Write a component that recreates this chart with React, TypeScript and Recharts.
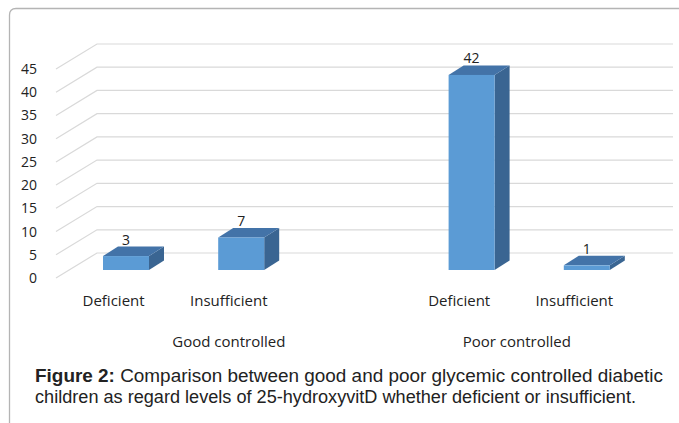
import React from 'react';
import { BarChart, Bar, CartesianGrid, XAxis, YAxis, LabelList } from 'recharts';

// categories (blank slot separates the two groups, like the Excel sheet)
const categories = ['Deficient', 'Insufficient', '', 'Deficient', 'Insufficient'];
const groups = ['Good controlled', 'Good controlled', 'Good controlled', 'Poor controlled', 'Poor controlled'];
const counts: (number | null)[] = [3, 7, null, 42, 1];
const yTicks = [0, 5, 10, 15, 20, 25, 30, 35, 40, 45];

const data = categories.map((name, i) => ({ id: i, name, group: groups[i], count: counts[i] }));

// oblique 3D offsets
const WALL_DX = 41;
const WALL_DY = -25;
const BAR_SHIFT_X = 12;
const BAR_SHIFT_Y = -8;
const DEPTH_X = 15;
const DEPTH_Y = -9.5;

const FRONT = '#5b9bd5';
const TOP = '#4373a8';
const SIDE = '#3a6592';
const GRID = '#d9d9d9';
const FONT = '"Open Sans", sans-serif';

const gridLine = (props: any) => {
  const { x1, y1, x2, key } = props;
  return (
    <polyline
      key={key}
      points={`${x1},${y1} ${x1 + WALL_DX},${y1 + WALL_DY} ${x2 + WALL_DX},${y1 + WALL_DY}`}
      fill="none"
      stroke={GRID}
      strokeWidth={1.2}
    />
  );
};

const Bar3D = (props: any) => {
  const { x, y, width, height } = props;
  if (!height && height !== 0) return null;
  const fx = x + BAR_SHIFT_X;
  const fy = y + BAR_SHIFT_Y;
  const w = width;
  const h = height;
  return (
    <g>
      <polygon
        points={`${fx + w},${fy} ${fx + w + DEPTH_X},${fy + DEPTH_Y} ${fx + w + DEPTH_X},${fy + h + DEPTH_Y} ${fx + w},${fy + h}`}
        fill={SIDE}
      />
      <polygon
        points={`${fx},${fy} ${fx + DEPTH_X},${fy + DEPTH_Y} ${fx + w + DEPTH_X},${fy + DEPTH_Y} ${fx + w},${fy}`}
        fill={TOP}
      />
      <rect x={fx} y={fy} width={w} height={h} fill={FRONT} />
    </g>
  );
};

const ValueLabel = (props: any) => {
  const { x, y, width, value } = props;
  if (value == null) return null;
  return (
    <text
      x={x + BAR_SHIFT_X + width / 2}
      y={y + BAR_SHIFT_Y + DEPTH_Y - 2}
      textAnchor="middle"
      fontFamily={FONT}
      fontSize={14}
      fill="#222"
    >
      {value}
    </text>
  );
};

const CategoryTick = (props: any) => {
  const { x, y, payload } = props;
  const i = payload.index;
  const row = data[i];
  // group label sits under the middle of its run of categories
  const first = groups.indexOf(row.group);
  const last = groups.lastIndexOf(row.group);
  const mid = (first + last) / 2;
  const step = payload.offset * 2;
  const showGroup = i === Math.floor(mid);
  const gx = x + (mid - i) * step;
  return (
    <g>
      <text x={x} y={y + 18} textAnchor="middle" fontFamily={FONT} fontSize={15} fill="#222">
        {row.name}
      </text>
      {showGroup && (
        <text x={gx} y={y + 59} textAnchor="middle" fontFamily={FONT} fontSize={15} fill="#222">
          {row.group}
        </text>
      )}
    </g>
  );
};

export default function App() {
  return (
    <div style={{ position: 'absolute', left: 0, top: 0, width: 679, height: 423, background: '#fff' }}>
      <svg width={679} height={423} style={{ position: 'absolute', left: 0, top: 0 }}>
        <path d="M 9.5 423 L 9.5 15 Q 9.5 8.5 16 8.5 L 679 8.5" fill="none" stroke="#b4b4b4" strokeWidth={1.3} />
        <g fontFamily='"Liberation Sans", Arial, sans-serif' fontSize={17.5} fill="#222">
          <text x={35} y={382} textLength={628} lengthAdjust="spacingAndGlyphs">
            <tspan fontWeight="bold">Figure 2:</tspan> Comparison between good and poor glycemic controlled diabetic
          </text>
          <text x={35} y={403} textLength={601} lengthAdjust="spacingAndGlyphs">
            children as regard levels of 25-hydroxyvitD whether deficient or insufficient.
          </text>
        </g>
      </svg>
      <div style={{ position: 'absolute', left: 0, top: 0 }}>
        <BarChart
          width={679}
          height={362}
          data={data}
          margin={{ top: 69, right: 47, left: 0, bottom: 0 }}
          barSize={46}
        >
          <CartesianGrid vertical={false} horizontal={gridLine} />
          <YAxis
            domain={[0, 45]}
            ticks={yTicks}
            width={56}
            axisLine={false}
            tickLine={false}
            tickSize={0}
            tickMargin={19}
            tick={{ fontFamily: FONT, fontSize: 14, fill: '#222' }}
          />
          <XAxis
            dataKey="id"
            height={84}
            axisLine={false}
            tickLine={false}
            tickSize={0}
            tickMargin={10}
            interval={0}
            tick={<CategoryTick />}
          />
          <Bar dataKey="count" shape={<Bar3D />} isAnimationActive={false}>
            <LabelList dataKey="count" content={<ValueLabel />} />
          </Bar>
        </BarChart>
      </div>
    </div>
  );
}
